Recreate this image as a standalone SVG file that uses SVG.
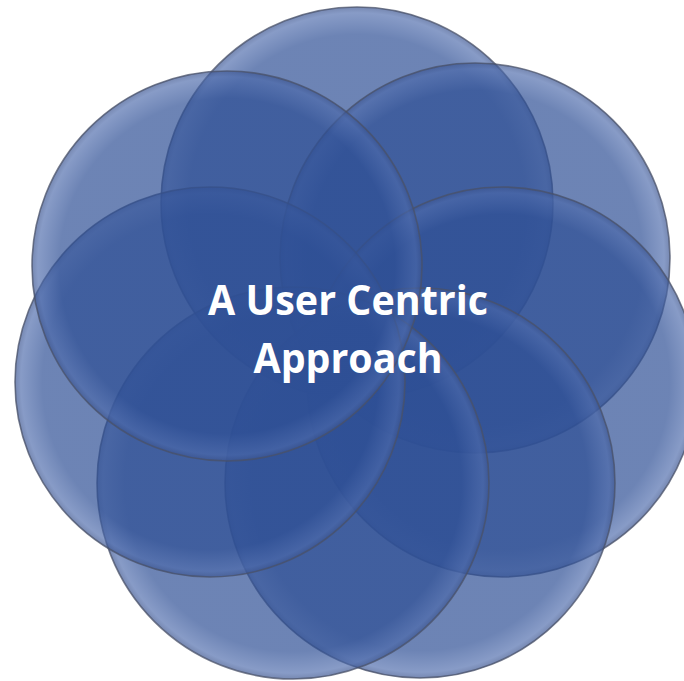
<svg xmlns="http://www.w3.org/2000/svg" width="684" height="681" viewBox="0 0 684 681">
<defs>
<radialGradient id="g" cx="0.5" cy="0.5" r="0.5">
<stop offset="0" stop-color="#2e4f95" stop-opacity="0.7"/>
<stop offset="0.86" stop-color="#2e4f95" stop-opacity="0.7"/>
<stop offset="0.97" stop-color="#4a68aa" stop-opacity="0.66"/>
<stop offset="1" stop-color="#3c5590" stop-opacity="0.7"/>
</radialGradient>
<style>
.c{fill:url(#g);stroke:#4a5268;stroke-opacity:0.75;stroke-width:1.6}
.t{font-family:"Open Sans","Liberation Sans",sans-serif;font-weight:bold;font-size:42px;fill:#ffffff;text-anchor:middle}
</style>
</defs>
<rect width="684" height="681" fill="#ffffff"/>
<g id="circle1"><circle class="c" cx="357" cy="203" r="196"/></g>
<g id="circle2"><circle class="c" cx="475" cy="258" r="195"/></g>
<g id="circle3"><circle class="c" cx="502" cy="382" r="195"/></g>
<g id="circle4"><circle class="c" cx="420" cy="483" r="195"/></g>
<g id="circle5"><circle class="c" cx="293" cy="483" r="196"/></g>
<g id="circle6"><circle class="c" cx="210" cy="382" r="195"/></g>
<g id="circle7"><circle class="c" cx="227" cy="266" r="195"/></g>
<g id="label">
<text class="t" x="348" y="315" textLength="280" lengthAdjust="spacingAndGlyphs">A User Centric</text>
<text class="t" x="348" y="373" textLength="189" lengthAdjust="spacingAndGlyphs">Approach</text>
</g>
</svg>
